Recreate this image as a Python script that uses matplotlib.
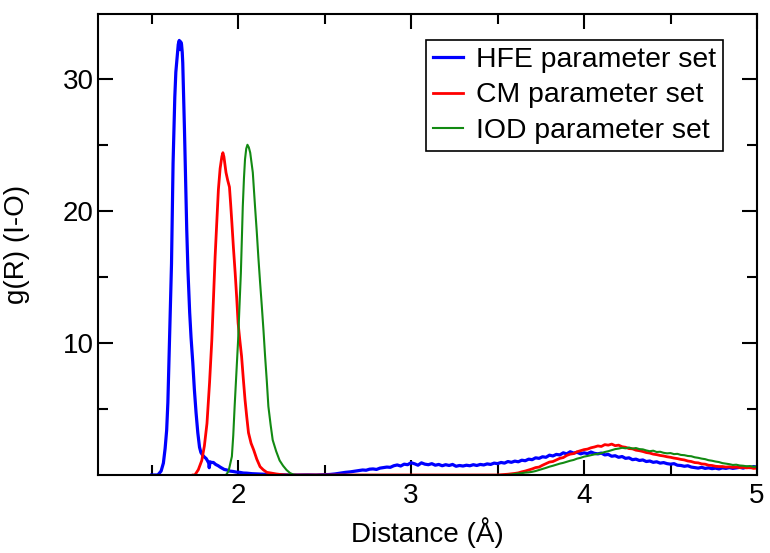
import matplotlib
matplotlib.use("Agg")
import matplotlib.pyplot as plt
from matplotlib.ticker import MultipleLocator, FixedLocator

# ---------------- data ----------------
hfe_x = [1.50, 1.536, 1.555, 1.568, 1.578, 1.587, 1.594, 1.600, 1.608, 1.615,
         1.620, 1.624, 1.630, 1.634, 1.640, 1.648, 1.654, 1.660, 1.664, 1.668,
         1.673, 1.677, 1.680, 1.685, 1.690, 1.696, 1.703, 1.710, 1.720, 1.728,
         1.738, 1.747, 1.757, 1.767, 1.777, 1.785, 1.795, 1.806, 1.815, 1.822,
         1.830, 1.833, 1.838, 1.845, 1.857, 1.870, 1.885, 1.896, 1.91, 1.92,
         1.935, 1.95, 1.97, 1.99, 2.01, 2.03, 2.05, 2.08, 2.10, 2.13,
         2.16, 2.19, 2.22, 2.26, 2.30, 2.35, 2.40, 2.45, 2.50, 2.53,
         2.56, 2.59, 2.62, 2.65, 2.68, 2.70, 2.72, 2.74, 2.76, 2.78,
         2.80, 2.82, 2.84, 2.86, 2.88, 2.90, 2.92, 2.94, 2.96, 2.98,
         3.00, 3.02, 3.04, 3.06, 3.08, 3.10, 3.12, 3.14, 3.16, 3.18,
         3.20, 3.22, 3.24, 3.26, 3.28, 3.30, 3.32, 3.34, 3.36, 3.38,
         3.40, 3.42, 3.44, 3.46, 3.48, 3.50, 3.52, 3.54, 3.56, 3.58,
         3.60, 3.62, 3.64, 3.66, 3.68, 3.70, 3.72, 3.74, 3.76, 3.78,
         3.80, 3.82, 3.84, 3.86, 3.88, 3.90, 3.92, 3.94, 3.96, 3.98,
         4.00, 4.02, 4.04, 4.06, 4.08, 4.10, 4.12, 4.14, 4.16, 4.18,
         4.20, 4.22, 4.24, 4.26, 4.28, 4.30, 4.32, 4.34, 4.36, 4.38,
         4.40, 4.42, 4.44, 4.46, 4.48, 4.50, 4.52, 4.54, 4.56, 4.58,
         4.60, 4.62, 4.64, 4.66, 4.68, 4.70, 4.72, 4.74, 4.76, 4.78,
         4.80, 4.82, 4.84, 4.86, 4.88, 4.90, 4.92, 4.94, 4.96, 4.98, 5.00]
hfe_y = [0.0, 0.0, 0.3, 0.9, 2.0, 3.4, 5.5, 8.5, 12.5, 16.0,
         20.0, 23.6, 26.5, 28.6, 30.5, 31.7, 32.6, 32.9, 32.2, 32.8,
         32.6, 32.0, 31.2, 28.8, 26.1, 22.5, 18.6, 15.5, 12.3, 10.4,
         8.5, 6.5, 4.7, 3.2, 2.1, 1.7, 1.5, 1.35, 1.25, 1.1,
         0.9, 0.55, 1.0, 0.95, 0.95, 0.8, 0.7, 0.6, 0.5, 0.42,
         0.38, 0.3, 0.27, 0.22, 0.2, 0.15, 0.14, 0.1, 0.09, 0.07,
         0.05, 0.04, 0.03, 0.02, 0.0, 0.0, 0.01, 0.0, 0.02, 0.04,
         0.08, 0.14, 0.2, 0.24, 0.3, 0.34, 0.38, 0.36, 0.44, 0.46,
         0.42, 0.52, 0.56, 0.6, 0.58, 0.7, 0.76, 0.68, 0.82, 0.78,
         0.93, 0.85, 0.74, 0.92, 0.82, 0.78, 0.86, 0.74, 0.8, 0.7,
         0.78, 0.72, 0.8, 0.66, 0.72, 0.68, 0.74, 0.7, 0.78, 0.72,
         0.8, 0.76, 0.84, 0.8, 0.9, 0.86, 0.95, 0.9, 1.02, 0.96,
         1.05, 1.0, 1.12, 1.08, 1.2, 1.16, 1.3, 1.26, 1.38, 1.34,
         1.5, 1.44, 1.56, 1.52, 1.68, 1.6, 1.76, 1.66, 1.72, 1.6,
         1.68, 1.62, 1.74, 1.64, 1.6, 1.66, 1.52, 1.56, 1.42, 1.46,
         1.34, 1.4, 1.26, 1.3, 1.16, 1.2, 1.1, 1.14, 1.02, 1.06,
         0.96, 1.0, 0.9, 0.94, 0.86, 0.82, 0.86, 0.74, 0.72, 0.66,
         0.7, 0.6, 0.56, 0.52, 0.58, 0.5, 0.54, 0.48, 0.52, 0.46,
         0.54, 0.5, 0.56, 0.5, 0.54, 0.58, 0.52, 0.6, 0.56, 0.64, 0.6]

cm_x = [1.74, 1.75, 1.77, 1.79, 1.805, 1.82, 1.835, 1.848, 1.858, 1.867,
        1.877, 1.886, 1.896, 1.906, 1.912, 1.918, 1.924, 1.930, 1.940, 1.950,
        1.957, 1.964, 1.973, 1.983, 1.992, 2.000, 2.010, 2.020, 2.030, 2.040,
        2.050, 2.060, 2.075, 2.090, 2.108, 2.127, 2.145, 2.166, 2.19, 2.22,
        2.25, 2.28, 3.00, 3.50, 3.52, 3.56, 3.60, 3.62, 3.64, 3.66,
        3.68, 3.70, 3.72, 3.74, 3.76, 3.78, 3.80, 3.82, 3.84, 3.86,
        3.88, 3.90, 3.92, 3.94, 3.96, 3.98, 4.00, 4.02, 4.04, 4.06,
        4.08, 4.10, 4.12, 4.14, 4.16, 4.18, 4.20, 4.22, 4.24, 4.26,
        4.28, 4.30, 4.32, 4.34, 4.36, 4.38, 4.40, 4.42, 4.44, 4.46,
        4.48, 4.50, 4.52, 4.54, 4.56, 4.58, 4.60, 4.62, 4.64, 4.66,
        4.68, 4.70, 4.72, 4.74, 4.76, 4.78, 4.80, 4.82, 4.84, 4.86,
        4.88, 4.90, 4.92, 4.94, 4.96, 4.98, 5.00]
cm_y = [0.0, 0.0, 0.4, 1.1, 2.2, 3.9, 7.0, 10.2, 13.5, 16.5,
        19.2, 21.6, 23.2, 24.1, 24.4, 24.1, 23.5, 22.9, 22.3, 21.8,
        20.5, 19.1, 17.2, 15.3, 13.4, 11.5, 10.2, 9.0, 7.3, 5.7,
        4.4, 3.2, 2.4, 1.9, 1.2, 0.63, 0.4, 0.2, 0.15, 0.08,
        0.03, 0.0, 0.0, 0.0, 0.02, 0.06, 0.12, 0.16, 0.24, 0.3,
        0.38, 0.46, 0.56, 0.6, 0.74, 0.86, 0.98, 1.02, 1.14, 1.26,
        1.32, 1.48, 1.58, 1.62, 1.76, 1.84, 1.92, 1.96, 2.06, 2.12,
        2.2, 2.16, 2.3, 2.26, 2.34, 2.22, 2.26, 2.14, 2.1, 2.0,
        1.98, 1.88, 1.84, 1.78, 1.7, 1.66, 1.58, 1.54, 1.48, 1.44,
        1.38, 1.34, 1.28, 1.24, 1.18, 1.14, 1.06, 1.02, 0.94, 0.92,
        0.84, 0.82, 0.74, 0.72, 0.66, 0.64, 0.64, 0.6, 0.62, 0.58,
        0.6, 0.56, 0.58, 0.54, 0.56, 0.5, 0.52]

iod_x = [1.93, 1.945, 1.964, 1.972, 1.98, 1.99, 2.00, 2.008, 2.016, 2.022,
         2.027, 2.034, 2.040, 2.047, 2.054, 2.062, 2.070, 2.078, 2.085, 2.092,
         2.098, 2.108, 2.117, 2.127, 2.137, 2.147, 2.156, 2.166, 2.175, 2.188,
         2.20, 2.22, 2.24, 2.26, 2.28, 2.30, 2.32, 2.34, 3.55, 3.58,
         3.61, 3.64, 3.66, 3.68, 3.70, 3.72, 3.74, 3.76, 3.78, 3.80,
         3.82, 3.84, 3.86, 3.88, 3.90, 3.92, 3.94, 3.96, 3.98, 4.00,
         4.02, 4.04, 4.06, 4.08, 4.10, 4.12, 4.14, 4.16, 4.18, 4.20,
         4.22, 4.24, 4.26, 4.28, 4.30, 4.32, 4.34, 4.36, 4.38, 4.40,
         4.42, 4.44, 4.46, 4.48, 4.50, 4.52, 4.54, 4.56, 4.58, 4.60,
         4.62, 4.64, 4.66, 4.68, 4.70, 4.72, 4.74, 4.76, 4.78, 4.80,
         4.82, 4.84, 4.86, 4.88, 4.90, 4.92, 4.94, 4.96, 4.98, 5.00]
iod_y = [0.0, 0.3, 1.4, 3.0, 5.2, 7.7, 10.2, 12.8, 15.3, 18.0,
         20.3, 22.5, 23.9, 24.7, 25.0, 24.8, 24.4, 23.6, 22.9, 21.5,
         20.3, 18.4, 16.5, 14.6, 12.8, 10.9, 9.0, 7.1, 5.2, 3.8,
         2.65, 1.8, 1.1, 0.7, 0.38, 0.15, 0.03, 0.0, 0.0, 0.04,
         0.1, 0.14, 0.18, 0.2, 0.24, 0.3, 0.38, 0.46, 0.54, 0.63,
         0.7, 0.78, 0.86, 0.92, 1.0, 1.08, 1.14, 1.24, 1.3, 1.39,
         1.44, 1.5, 1.56, 1.6, 1.66, 1.74, 1.8, 1.88, 1.96, 2.0,
         2.06, 2.02, 2.08, 2.0, 2.04, 1.96, 1.94, 1.86, 1.8, 1.84,
         1.74, 1.76, 1.68, 1.64, 1.66, 1.58, 1.6, 1.52, 1.5, 1.44,
         1.42, 1.34, 1.3, 1.24, 1.2, 1.12, 1.08, 1.02, 0.98, 0.9,
         0.86, 0.82, 0.76, 0.78, 0.72, 0.7, 0.66, 0.68, 0.62, 0.64]

series_labels = ["HFE parameter set", "CM parameter set", "IOD parameter set"]
x_major = [2, 3, 4, 5]
y_major = [10, 20, 30]

# ---------------- figure ----------------
plt.rcParams['font.family'] = ['Liberation Sans', 'DejaVu Sans']
fig = plt.figure(figsize=(7.70, 5.53), dpi=100)
ax = fig.add_axes([98/770, 1 - 475/553, (757-98)/770, (475-14)/553])

ax.plot(hfe_x, hfe_y, color='#0000ff', lw=2.3, label=series_labels[0])
ax.plot(cm_x, cm_y, color='#ff0000', lw=2.0, label=series_labels[1])
ax.plot(iod_x, iod_y, color='#128a12', lw=1.5, label=series_labels[2])

ax.set_xlim(1.19, 5.0)
ax.set_ylim(0, 34.9)
ax.xaxis.set_major_locator(FixedLocator(x_major))
ax.xaxis.set_minor_locator(MultipleLocator(0.5))
ax.yaxis.set_major_locator(FixedLocator(y_major))
ax.yaxis.set_minor_locator(FixedLocator([5, 15, 25]))

ax.tick_params(which='both', direction='in', top=True, right=True,
               width=1.5, labelsize=20)
ax.tick_params(axis='x', pad=6)
ax.tick_params(axis='y', pad=3)
ax.tick_params(which='major', length=11)
ax.tick_params(which='minor', length=7.5)
for sp in ax.spines.values():
    sp.set_linewidth(1.5)

ax.set_xlabel("Distance (Å)", fontsize=20, labelpad=6)
ax.set_ylabel("g(R) (I-O)", fontsize=20)
ax.yaxis.set_label_coords((30 - 98) / 659, 0.5)

leg = ax.legend(loc='upper right', bbox_to_anchor=((723-98)/659, (475-40)/461),
                borderaxespad=0, fontsize=20.4, handlelength=1.05,
                handletextpad=0.45, labelspacing=0.33, borderpad=0.25,
                fancybox=False, framealpha=1)
leg.get_frame().set_edgecolor('black')
leg.get_frame().set_linewidth(1.2)

fig.savefig("out.png", dpi=100)
